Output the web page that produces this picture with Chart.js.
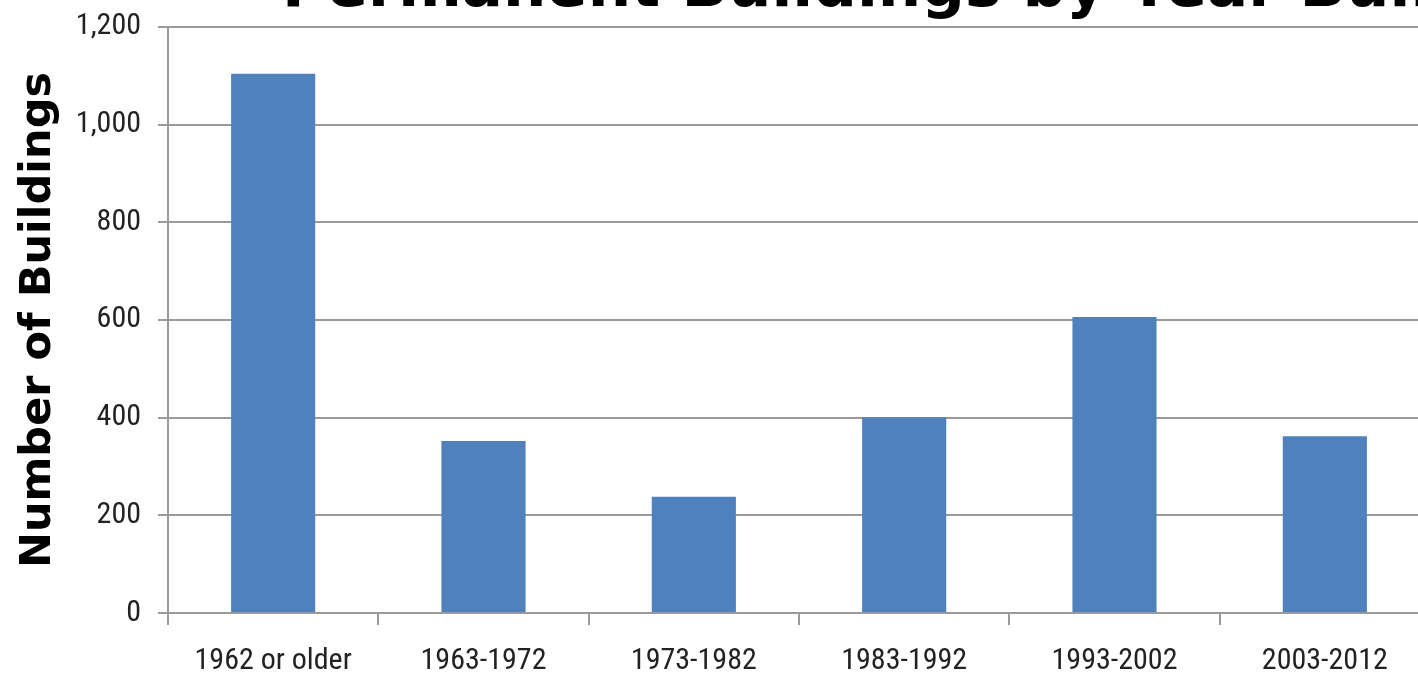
<!DOCTYPE html>
<html>
<head>
<meta charset="utf-8">
<script src="https://cdn.jsdelivr.net/npm/chart.js@4"></script>
<style>
html,body{margin:0;padding:0;overflow:hidden;background:#fff;width:1418px;height:676px;}
#wrap{position:absolute;left:0;top:-34px;width:1430px;height:710px;}
</style>
</head>
<body>
<div id="wrap"><canvas id="c"></canvas></div>
<script>
const chartTitle = 'Permanent Buildings by Year Built';
const yAxisTitle = 'Number of Buildings';
const categories = ['1962 or older','1963-1972','1973-1982','1983-1992','1993-2002','2003-2012'];
const buildings = [1104, 352, 238, 401, 606, 362];
const yTicks = [0, 200, 400, 600, 800, 1000, 1200];

const gridColor = '#9a9a9a';
const tickFont = { family: 'Liberation Sans Narrow, Roboto Condensed, Roboto', size: 30 };

// shift the (cropped) title block so that it starts where the original does
const titleShift = {
  id: 'titleShift',
  afterLayout(chart) {
    const tb = chart.titleBlock;
    if (tb) { const w = tb.right - tb.left; tb.left = 282; tb.right = 282 + w; }
  }
};

new Chart(document.getElementById('c'), {
  type: 'bar',
  data: {
    labels: categories,
    datasets: [{
      data: buildings,
      backgroundColor: '#4f81bd',
      borderWidth: 0,
      barPercentage: 0.4,
      categoryPercentage: 1.0
    }]
  },
  plugins: [titleShift],
  options: {
    responsive: true,
    maintainAspectRatio: false,
    animation: false,
    layout: { padding: { left: 0, right: 0, top: 1, bottom: 0 } },
    plugins: {
      legend: { display: false },
      tooltip: { enabled: false },
      title: {
        display: true,
        align: 'start',
        text: chartTitle,
        color: '#000',
        font: { family: 'DejaVu Sans', size: 61, weight: 'bold', lineHeight: 0.77 },
        padding: { top: 0, bottom: 13 }
      }
    },
    scales: {
      x: {
        grid: { display: true, drawOnChartArea: false, drawTicks: true, tickLength: 12, color: gridColor, lineWidth: 2, offset: true },
        border: { display: true, color: gridColor, width: 2 },
        ticks: { color: '#222', font: tickFont, padding: 18, maxRotation: 0, autoSkip: false },
        afterFit: s => { s.height = 63; }
      },
      y: {
        min: 0, max: 1200,
        afterBuildTicks: s => { s.ticks = yTicks.map(v => ({ value: v })); },
        grid: { color: gridColor, lineWidth: 2, drawTicks: true, tickLength: 10 },
        border: { display: true, color: gridColor, width: 2 },
        ticks: {
          color: '#222',
          font: tickFont,
          padding: 17,
          callback: v => v.toLocaleString('en-US')
        },
        title: {
          display: true,
          text: yAxisTitle,
          color: '#000',
          font: { family: 'DejaVu Sans', size: 43, weight: 'bold', lineHeight: 1.2 },
          padding: { top: 13, bottom: 0 }
        },
        afterFit: s => { s.width = 168; }
      }
    }
  }
});
</script>
</body>
</html>
